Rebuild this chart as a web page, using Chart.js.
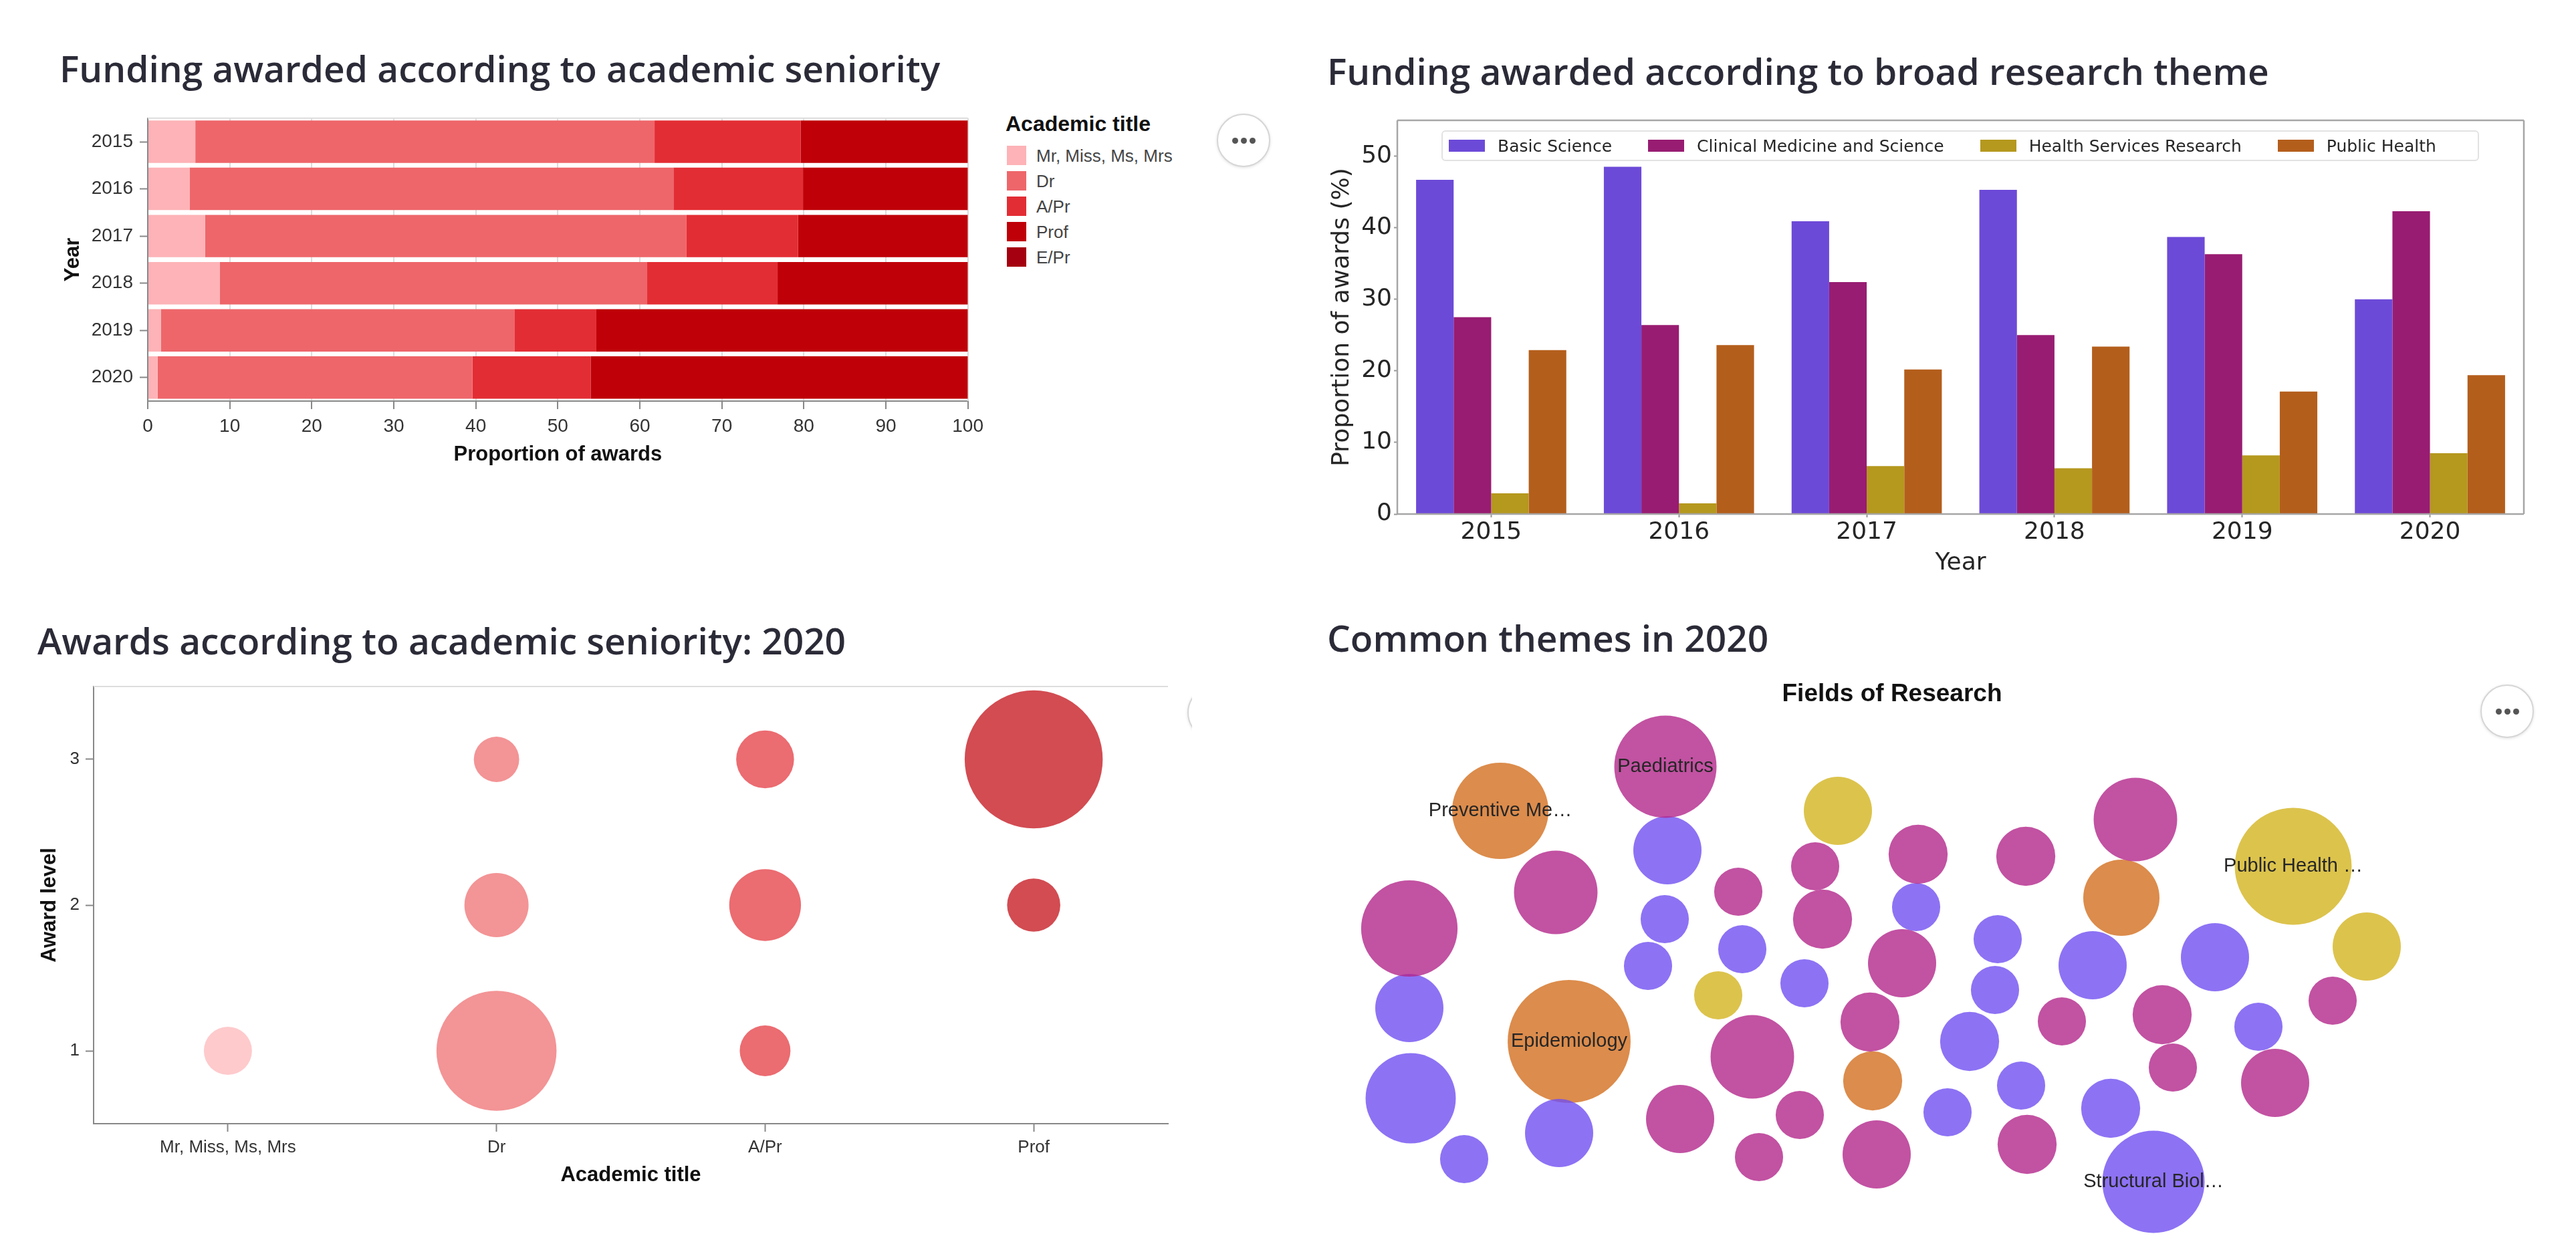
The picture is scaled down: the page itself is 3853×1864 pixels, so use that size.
<!DOCTYPE html>
<html>
<head>
<meta charset="utf-8">
<script src="https://cdn.jsdelivr.net/npm/chart.js@4.4.1/dist/chart.umd.min.js"></script>
<style>
  body { margin: 0; width: 3853px; height: 1864px; background: #fff; position: relative; overflow: hidden; font-family: "Liberation Sans", Arial, sans-serif; }
  .caja { position: absolute; }
  .titulo { position: absolute; font-family: "Open Sans", "Noto Sans", sans-serif; font-weight: 600; font-size: 55px; line-height: 1; color: #2b2b38; white-space: nowrap; }
  .menu { position: absolute; width: 76px; height: 76px; border-radius: 50%; border: 2px solid #d6d6d6; background: #fff; box-shadow: 0 1px 4px rgba(0,0,0,0.12); display: flex; align-items: center; justify-content: center; gap: 4px; }
  .menu span { width: 9px; height: 9px; border-radius: 50%; background: #555; }
</style>
</head>
<body>

<div class="titulo" style="left:89px; top:74px;">Funding awarded according to academic seniority</div>
<div class="titulo" style="left:1985px; top:78px;">Funding awarded according to broad research theme</div>
<div class="titulo" style="left:56px; top:930px;">Awards according to academic seniority: 2020</div>
<div class="titulo" style="left:1985px; top:926px;">Common themes in 2020</div>

<div class="caja" style="left:0; top:150px; width:1480px; height:560px;"><canvas id="chartSeniority"></canvas></div>
<div class="caja" style="left:1960px; top:150px; width:1893px; height:740px;"><canvas id="chartTemas"></canvas></div>
<div class="caja" style="left:0; top:990px; width:1775px; height:800px;"><canvas id="chartNiveles"></canvas></div>
<div class="caja" style="left:1990px; top:1000px; width:1680px; height:864px;"><canvas id="chartCampos"></canvas></div>

<div id="leyendaTitulos"></div>
<div id="leyendaTemas" class="caja" style="left:2156px; top:195px; width:1552px; height:46px; box-sizing:border-box; border:2px solid #e2e2e2; border-radius:6px; background:rgba(255,255,255,0.85); display:flex; align-items:center; padding-left:9px;"></div>

<div class="menu" style="left:1820px; top:170px;"><span></span><span></span><span></span></div>
<div class="menu" style="left:3710px; top:1024px;"><span></span><span></span><span></span></div>
<div class="caja" style="left:1770px; top:1020px; width:13px; height:100px; overflow:hidden;">
  <div class="menu" style="left:6px; top:6px;"><span></span><span></span><span></span></div>
</div>

<script>
// ---- datos: financiamiento segun titulo academico (proporcion %)
const anos = ["2015", "2016", "2017", "2018", "2019", "2020"];
const titulos = ["Mr, Miss, Ms, Mrs", "Dr", "A/Pr", "Prof", "E/Pr"];
const coloresTitulo = ["#fdb3b7", "#ee666a", "#e32d34", "#bf0008", "#a50010"];
const propMr = [5.8, 5.1, 7.0, 8.8, 1.6, 1.2];
const propDr = [56.0, 59.0, 58.7, 52.1, 43.1, 38.4];
const propAPr = [17.8, 15.8, 13.6, 15.9, 10.0, 14.4];
const propProf = [20.4, 20.1, 20.7, 23.2, 45.3, 46.0];
const propEPr = [0, 0, 0, 0, 0, 0];
const ticksProporcion = [0, 10, 20, 30, 40, 50, 60, 70, 80, 90, 100];

// ---- datos: tema de investigacion (% de premios)
const temas = ["Basic Science", "Clinical Medicine and Science", "Health Services Research", "Public Health"];
const coloresTema = ["#6c4ad8", "#981c72", "#b5981e", "#b45e1c"];
const basicScience = [46.7, 48.5, 40.9, 45.3, 38.7, 30.0];
const clinicalMed = [27.5, 26.4, 32.4, 25.0, 36.3, 42.3];
const healthServ = [2.9, 1.5, 6.7, 6.4, 8.2, 8.5];
const publicHealth = [22.9, 23.6, 20.2, 23.4, 17.1, 19.4];
const ticksPorcentaje = [0, 10, 20, 30, 40, 50];

// ---- datos: premios 2020 por nivel (cantidad)
const titulosBurbuja = ["Mr, Miss, Ms, Mrs", "Dr", "A/Pr", "Prof"];
const nivelesPremio = [1, 2, 3];
const premiosMr = [9, null, null];
const premiosDr = [56, 16, 8];
const premiosAPr = [10, 20, 13];
const premiosProf = [null, 11, 74];

// ---- datos: campos de investigacion 2020 [x, y, cantidad] en el layout empaquetado
const campoClinico = [[50.1, 7.7, 36], [33.7, 26.5, 24], [11.8, 31.9, 32], [72.5, 22.6, 8], [61.0, 26.4, 8],
  [73.6, 30.5, 12], [63.1, 51.1, 24], [52.3, 60.4, 16], [70.2, 59.8, 8], [64.1, 66.1, 8], [87.9, 20.8, 12],
  [104.0, 21.1, 12], [120.4, 15.6, 24], [85.5, 37.1, 16], [149.9, 42.7, 8], [80.7, 45.9, 12], [109.4, 45.8, 8],
  [124.4, 44.8, 12], [126.0, 52.7, 8], [141.3, 55.0, 16], [81.7, 65.7, 16], [104.2, 64.2, 12]];
const etiquetasClinico = ["Paediatrics"];
const campoBasico = [[50.4, 20.2, 16], [50.0, 30.5, 8], [61.6, 35.0, 8], [47.5, 37.5, 8], [70.9, 40.1, 8],
  [11.8, 43.8, 16], [12.0, 57.3, 28], [34.2, 62.5, 16], [20.0, 66.4, 8], [87.6, 28.7, 8], [99.8, 33.5, 8],
  [114.0, 37.4, 16], [132.3, 36.2, 16], [99.4, 41.1, 8], [138.8, 46.6, 8], [95.6, 48.8, 12], [103.3, 55.4, 8],
  [92.3, 59.4, 8], [116.7, 58.8, 12], [123.1, 69.8, 36]];
const etiquetasBasico = [];
etiquetasBasico[19] = "Structural Biol…";
const campoServicios = [[75.9, 14.3, 16], [58.0, 41.9, 8], [144.0, 22.6, 47], [155.0, 34.6, 16]];
const etiquetasServicios = ["", "", "Public Health …"];
const campoSaludPublica = [[25.4, 14.3, 32], [35.7, 48.8, 52], [118.3, 27.3, 20], [81.1, 54.7, 12]];
const etiquetasSaludPublica = ["Preventive Me…", "Epidemiology"];
const coloresCampo = ["rgba(179,39,139,0.8)", "rgba(112,79,241,0.8)", "rgba(211,180,31,0.8)", "rgba(211,111,31,0.8)"];


const FUENTE = "'Liberation Sans', Arial, sans-serif";
const FUENTE_MPL = "'DejaVu Sans', sans-serif";
Chart.defaults.font.family = FUENTE;

// marco del area de graficos (view stroke de vega / spines de matplotlib)
const marco = {
  id: "marco",
  beforeDatasetsDraw(chart, args, opts) { if (!opts.encima) dibujarMarco(chart, opts); },
  afterDatasetsDraw(chart, args, opts) { if (opts.encima) dibujarMarco(chart, opts); }
};
function dibujarMarco(chart, opts) {
  const { ctx, chartArea: { left, top, right, bottom } } = chart;
  const lados = opts.lados || [];
  ctx.save();
  ctx.strokeStyle = opts.color;
  ctx.lineWidth = opts.ancho;
  ctx.beginPath();
  if (lados.includes("top")) { ctx.moveTo(left, top); ctx.lineTo(right, top); }
  if (lados.includes("right")) { ctx.moveTo(right, top); ctx.lineTo(right, bottom); }
  if (lados.includes("bottom")) { ctx.moveTo(left, bottom); ctx.lineTo(right, bottom); }
  if (lados.includes("left")) { ctx.moveTo(left, top); ctx.lineTo(left, bottom); }
  ctx.stroke();
  ctx.restore();
}

// etiquetas dentro de las burbujas
const etiquetasBurbuja = {
  id: "etiquetasBurbuja",
  afterDatasetsDraw(chart) {
    const ctx = chart.ctx;
    ctx.save();
    ctx.font = "29px " + FUENTE;
    ctx.fillStyle = "#262626";
    ctx.textAlign = "center";
    ctx.textBaseline = "middle";
    chart.data.datasets.forEach((ds, i) => {
      chart.getDatasetMeta(i).data.forEach((el, j) => {
        const t = ds.etiquetas && ds.etiquetas[j];
        if (t) ctx.fillText(t, el.x, el.y);
      });
    });
    ctx.restore();
  }
};


// ---------- grafico 1: barras apiladas horizontales
const seriesTitulo = [propMr, propDr, propAPr, propProf, propEPr];

new Chart(document.getElementById("chartSeniority"), {
  type: "bar",
  data: {
    labels: anos,
    datasets: titulos.map((t, i) => ({
      label: t,
      data: seriesTitulo[i],
      backgroundColor: coloresTitulo[i],
      borderWidth: 0,
      categoryPercentage: 0.9,
      barPercentage: 1
    }))
  },
  options: {
    indexAxis: "y",
    responsive: true,
    maintainAspectRatio: false,
    animation: false,
    devicePixelRatio: 1,
    layout: { autoPadding: false, padding: { left: 0, top: 21, right: 29, bottom: 0 } },
    plugins: {
      legend: { display: false },
      tooltip: { enabled: false },
      marco: { lados: ["top", "right"], color: "#dddddd", ancho: 2 }
    },
    scales: {
      x: {
        stacked: true, min: 0, max: 100,
        afterFit: s => { s.height = 110; },
        afterBuildTicks: s => { s.ticks = ticksProporcion.map(v => ({ value: v })); },
        grid: { color: "#dddddd", lineWidth: 2, tickColor: "#888", tickLength: 12, tickWidth: 2 },
        border: { color: "#888", width: 2 },
        ticks: { font: { size: 28 }, color: "#333", padding: 9, maxRotation: 0 },
        title: { display: true, text: "Proportion of awards", color: "#111", font: { size: 31, weight: "bold" }, padding: { top: 11, bottom: 11 } }
      },
      y: {
        stacked: true,
        afterFit: s => { s.width = 221; },
        grid: { drawOnChartArea: false, offset: false, tickColor: "#888", tickLength: 12, tickWidth: 2 },
        border: { color: "#888", width: 2 },
        ticks: { font: { size: 28 }, color: "#333", padding: 10 },
        title: { display: true, text: "Year", color: "#111", font: { size: 31, weight: "bold" }, padding: { top: 91, bottom: 91 } }
      }
    }
  },
  plugins: [marco]
});

// leyenda vega (derecha del grafico 1)
const leyenda1 = document.getElementById("leyendaTitulos");
const tituloLeyenda = document.createElement("div");
tituloLeyenda.className = "caja";
tituloLeyenda.style.cssText = "left:1504px; top:166px; font-weight:bold; font-size:32px; line-height:38px; color:#111;";
tituloLeyenda.textContent = "Academic title";
leyenda1.appendChild(tituloLeyenda);
titulos.forEach((t, i) => {
  const y = 232.5 + 38 * i;
  const cuadro = document.createElement("div");
  cuadro.className = "caja";
  cuadro.style.cssText = `left:1506px; top:${y - 14.5}px; width:29px; height:29px; background:${coloresTitulo[i]};`;
  const texto = document.createElement("div");
  texto.className = "caja";
  texto.style.cssText = `left:1550px; top:${y - 16}px; font-size:26px; line-height:32px; color:#444; white-space:nowrap;`;
  texto.textContent = t;
  leyenda1.appendChild(cuadro);
  leyenda1.appendChild(texto);
});


// ---------- grafico 2: barras agrupadas por tema
const seriesTema = [basicScience, clinicalMed, healthServ, publicHealth];

new Chart(document.getElementById("chartTemas"), {
  type: "bar",
  data: {
    labels: anos,
    datasets: temas.map((t, i) => ({
      label: t,
      data: seriesTema[i],
      backgroundColor: coloresTema[i],
      borderWidth: 0,
      categoryPercentage: 0.8,
      barPercentage: 1
    }))
  },
  options: {
    responsive: true,
    maintainAspectRatio: false,
    animation: false,
    devicePixelRatio: 1,
    layout: { autoPadding: false, padding: { left: 0, top: 30, right: 78, bottom: 0 } },
    plugins: {
      legend: { display: false },
      tooltip: { enabled: false },
      marco: { lados: ["top", "right", "bottom", "left"], color: "#a6a6a6", ancho: 2.5, encima: true }
    },
    scales: {
      x: {
        afterFit: s => { s.height = 121; },
        grid: { drawOnChartArea: false, offset: false, tickColor: "#999", tickLength: 5, tickWidth: 2 },
        border: { display: false },
        ticks: { font: { family: FUENTE_MPL, size: 36 }, color: "#262626", padding: 1, maxRotation: 0 },
        title: { display: true, text: "Year", color: "#262626", font: { family: FUENTE_MPL, size: 36 }, padding: { top: 26, bottom: 26 } }
      },
      y: {
        min: 0, max: 55,
        afterFit: s => { s.width = 130; },
        afterBuildTicks: s => { s.ticks = ticksPorcentaje.map(v => ({ value: v })); },
        grid: { drawOnChartArea: false, tickColor: "#999", tickLength: 5, tickWidth: 2 },
        border: { display: false },
        ticks: { font: { family: FUENTE_MPL, size: 36 }, color: "#262626", padding: 3 },
        title: { display: true, text: "Proportion of awards (%)", color: "#262626", font: { family: FUENTE_MPL, size: 36 }, padding: { top: 26, bottom: 26 } }
      }
    }
  },
  plugins: [marco]
});

// leyenda matplotlib (dentro del grafico 2)
const leyenda2 = document.getElementById("leyendaTemas");
temas.forEach((t, i) => {
  const parche = document.createElement("div");
  parche.style.cssText = `width:54px; height:18px; background:${coloresTema[i]}; margin-right:19px; flex:none;`;
  const texto = document.createElement("div");
  texto.style.cssText = `font-family:${FUENTE_MPL}; font-size:25px; color:#262626; white-space:nowrap; margin-right:54px;`;
  texto.textContent = t;
  leyenda2.appendChild(parche);
  leyenda2.appendChild(texto);
});


// ---------- grafico 3: burbujas por titulo y nivel (2020)
const seriesNivel = [premiosMr, premiosDr, premiosAPr, premiosProf];
const radioPremio = n => 12 * Math.sqrt(n);

new Chart(document.getElementById("chartNiveles"), {
  type: "bubble",
  data: {
    labels: titulosBurbuja,
    datasets: titulosBurbuja.map((t, i) => ({
      label: t,
      data: nivelesPremio
        .map((nivel, j) => seriesNivel[i][j] == null ? null : { x: t, y: nivel, r: radioPremio(seriesNivel[i][j]) })
        .filter(p => p),
      backgroundColor: Chart.helpers.color(coloresTitulo[i]).alpha(0.7).rgbString(),
      borderWidth: 0,
      hoverBorderWidth: 0,
      clip: false
    }))
  },
  options: {
    responsive: true,
    maintainAspectRatio: false,
    animation: false,
    devicePixelRatio: 1,
    layout: { autoPadding: false, padding: { left: 0, top: 37, right: 28, bottom: 0 } },
    plugins: {
      legend: { display: false },
      tooltip: { enabled: false },
      marco: { lados: ["top"], color: "#dddddd", ancho: 2 }
    },
    scales: {
      x: {
        type: "category", offset: true,
        afterFit: s => { s.height = 109; },
        grid: { drawOnChartArea: false, offset: false, tickColor: "#888", tickLength: 12, tickWidth: 2 },
        border: { color: "#888", width: 2 },
        ticks: { font: { size: 26 }, color: "#333", padding: 8, maxRotation: 0 },
        title: { display: true, text: "Academic title", color: "#111", font: { size: 31, weight: "bold" }, padding: { top: 13, bottom: 13 } }
      },
      y: {
        min: 0.5, max: 3.5,
        afterFit: s => { s.width = 140; },
        afterBuildTicks: s => { s.ticks = nivelesPremio.map(v => ({ value: v })); },
        grid: { drawOnChartArea: false, tickColor: "#888", tickLength: 12, tickWidth: 2 },
        border: { color: "#888", width: 2 },
        ticks: { font: { size: 26 }, color: "#333", padding: 9 },
        title: { display: true, text: "Award level", color: "#111", font: { size: 31, weight: "bold" }, padding: { top: 56, bottom: 56 } }
      }
    }
  },
  plugins: [marco]
});


// ---------- grafico 4: burbujas empaquetadas de campos de investigacion
const campos = [campoClinico, campoBasico, campoServicios, campoSaludPublica];
const etiquetasCampos = [etiquetasClinico, etiquetasBasico, etiquetasServicios, etiquetasSaludPublica];
const radioCampo = n => 12.75 * Math.sqrt(n);

new Chart(document.getElementById("chartCampos"), {
  type: "bubble",
  data: {
    datasets: campos.map((c, i) => ({
      label: temas[[1, 0, 2, 3][i]],
      data: c.map(([x, y, n]) => ({ x, y, r: radioCampo(n) })),
      etiquetas: etiquetasCampos[i],
      backgroundColor: coloresCampo[i],
      borderWidth: 0,
      hoverBorderWidth: 0,
      clip: false
    }))
  },
  options: {
    responsive: true,
    maintainAspectRatio: false,
    animation: false,
    devicePixelRatio: 1,
    layout: { autoPadding: false, padding: 0 },
    plugins: {
      legend: { display: false },
      tooltip: { enabled: false },
      title: {
        display: true, text: "Fields of Research", color: "#111",
        font: { size: 37, weight: "bold", lineHeight: 1.2 },
        padding: { top: 17, bottom: 8.6 }
      }
    },
    scales: {
      x: { type: "linear", display: false, min: 0, max: 168 },
      y: { type: "linear", display: false, min: 0, max: 79.4, reverse: true }
    }
  },
  plugins: [etiquetasBurbuja]
});
</script>
</body>
</html>
